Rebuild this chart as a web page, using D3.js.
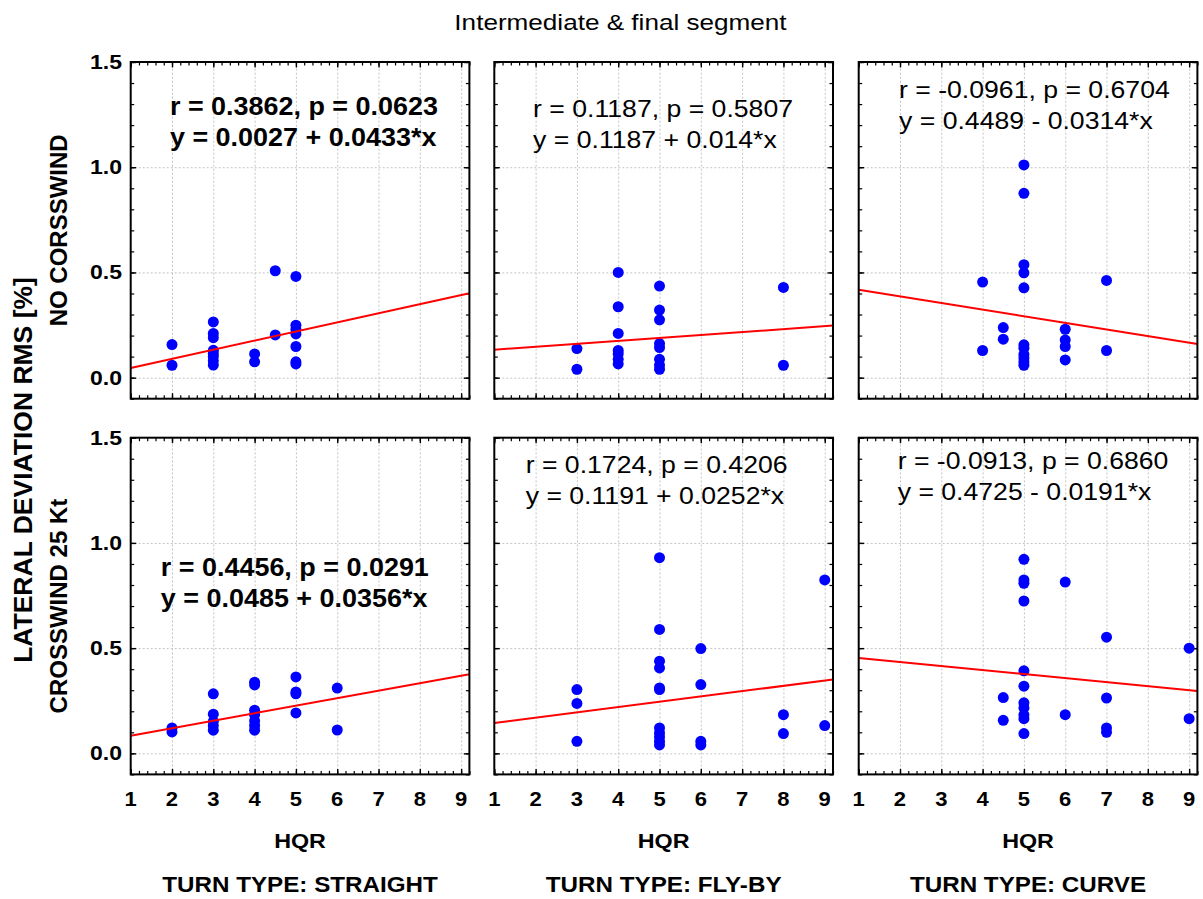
<!DOCTYPE html>
<html><head><meta charset="utf-8">
<script src="https://cdn.jsdelivr.net/npm/d3@7"></script>
<style>
body{margin:0;background:#fff}
svg{display:block}
text{font-family:'Liberation Sans',Arial,sans-serif;fill:#000}
</style>
</head><body>
<svg id="chart" width="1203" height="899"></svg>
<script>
// ---------- data ----------
const title = "Intermediate & final segment";
const yAxisTitle = "LATERAL DEVIATION RMS [%]";
const rowLabels = ["NO CORSSWIND", "CROSSWIND 25 Kt"];
const colLabels = ["TURN TYPE: STRAIGHT", "TURN TYPE: FLY-BY", "TURN TYPE: CURVE"];
const xAxisTitle = "HQR";
const xTickValues = [1, 2, 3, 4, 5, 6, 7, 8, 9];
const yTickValues = [0.0, 0.5, 1.0, 1.5];
const xDomain = [1, 9.2];
const yDomain = [-0.1, 1.5];

const straightNoCw = [[2,0.157],[2,0.059],
  [3,0.265],[3,0.21],[3,0.19],[3,0.13],[3,0.115],[3,0.10],[3,0.08],[3,0.06],
  [4,0.113],[4,0.075],[4.5,0.508],[4.5,0.203],
  [5,0.481],[5,0.249],[5,0.230],[5,0.208],[5,0.148],[5,0.075],[5,0.065]];
const flybyNoCw = [[3,0.138],[3,0.040],
  [4,0.500],[4,0.337],[4,0.210],[4,0.129],[4,0.113],[4,0.087],[4,0.065],
  [5,0.435],[5,0.321],[5,0.275],[5,0.162],[5,0.143],[5,0.087],[5,0.060],[5,0.040],
  [8,0.429],[8,0.059]];
const curveNoCw = [[4,0.454],[4,0.129],[4.5,0.238],[4.5,0.183],
  [5,1.011],[5,0.876],[5,0.537],[5,0.498],[5,0.427],[5,0.156],[5,0.14],[5,0.11],[5,0.094],[5,0.076],[5,0.059],
  [6,0.230],[6,0.179],[6,0.148],[6,0.084],[7,0.462],[7,0.129]];
const straightCw = [[2,0.121],[2,0.102],
  [3,0.283],[3,0.186],[3,0.152],[3,0.132],[3,0.110],
  [4,0.338],[4,0.325],[4,0.205],[4,0.184],[4,0.154],[4,0.132],[4,0.110],
  [5,0.363],[5,0.292],[5,0.283],[5,0.192],[6,0.310],[6,0.111]];
const flybyCw = [[3,0.303],[3,0.237],[3,0.057],
  [5,0.930],[5,0.589],[5,0.438],[5,0.406],[5,0.311],[5,0.303],[5,0.121],[5,0.097],[5,0.078],[5,0.057],[5,0.040],
  [6,0.498],[6,0.327],[6,0.057],[6,0.040],[8,0.184],[8,0.094],[9,0.824],[9,0.132]];
const curveCw = [[4.5,0.265],[4.5,0.157],
  [5,0.922],[5,0.824],[5,0.808],[5,0.724],[5,0.392],[5,0.319],[5,0.240],[5,0.216],[5,0.183],[5,0.165],[5,0.094],
  [6,0.814],[6,0.184],[7,0.552],[7,0.263],[7,0.121],[7,0.100],[9,0.500],[9,0.165]];

const panelData = [straightNoCw, flybyNoCw, curveNoCw, straightCw, flybyCw, curveCw];
const intercepts = [0.0027, 0.1187, 0.4489, 0.0485, 0.1191, 0.4725];
const slopes = [0.0433, 0.014, -0.0314, 0.0356, 0.0252, -0.0191];
const statText = ["r = 0.3862, p = 0.0623", "r = 0.1187, p = 0.5807", "r = -0.0961, p = 0.6704",
                  "r = 0.4456, p = 0.0291", "r = 0.1724, p = 0.4206", "r = -0.0913, p = 0.6860"];
const eqText = ["y = 0.0027 + 0.0433*x", "y = 0.1187 + 0.014*x", "y = 0.4489 - 0.0314*x",
                "y = 0.0485 + 0.0356*x", "y = 0.1191 + 0.0252*x", "y = 0.4725 - 0.0191*x"];
const boldStats = [true, false, false, true, false, false];

// ---------- layout ----------
const colLeft = [130.7, 494.3, 858.7];
const rowTop = [62, 437.7];
const W = 338.7, H = 336.7;
const annotX = [1.95, 1.94, 1.976, 1.73, 1.76, 1.944];
const annotY = [1.249, 1.241, 1.329, 0.843, 1.333, 1.352];
const lineGap = 31.5;

const svg = d3.select("#chart");

function stretch(sel, f) {
  sel.each(function () {
    const L = this.getComputedTextLength();
    this.setAttribute("textLength", L * f);
    this.setAttribute("lengthAdjust", "spacingAndGlyphs");
  });
}

// title
svg.append("text").attr("x", 620.5).attr("y", 30).attr("text-anchor", "middle")
  .style("font-size", "22.5px").text(title).call(stretch, 1.16);

// rotated labels
svg.append("text").attr("transform", "translate(32,470) rotate(-90)").attr("text-anchor", "middle")
  .style("font-size", "26.5px").style("font-weight", "bold").text(yAxisTitle);
rowLabels.forEach((lab, r) => {
  svg.append("text").attr("transform", `translate(67,${rowTop[r] + H / 2}) rotate(-90)`)
    .attr("text-anchor", "middle").style("font-size", "24px").style("font-weight", "bold").text(lab);
});

const xMinor = d3.range(0, 42).map(i => 1 + i * 0.2).filter(v => v <= 9.2 + 1e-9);
const yMinor = d3.range(0, 17).map(i => -0.1 + i * 0.1);

for (let r = 0; r < 2; r++) {
  for (let c = 0; c < 3; c++) {
    const idx = r * 3 + c;
    const g = svg.append("g").attr("transform", `translate(${colLeft[c]},${rowTop[r]})`);
    const x = d3.scaleLinear().domain(xDomain).range([0, W]);
    const y = d3.scaleLinear().domain(yDomain).range([H, 0]);

    // grid
    const gx = g.append("g").attr("transform", `translate(0,${H})`)
      .call(d3.axisBottom(x).tickValues(xTickValues.slice(1)).tickSize(-H).tickFormat(""));
    const gy = g.append("g")
      .call(d3.axisLeft(y).tickValues(yTickValues.slice(0, 3)).tickSize(-W).tickFormat(""));
    [gx, gy].forEach(a => {
      a.select(".domain").remove();
      a.selectAll("line").attr("stroke", "#c4c4c4").attr("stroke-width", 1).attr("stroke-dasharray", "2,2");
    });

    // ticks (inward on all sides)
    const tickAxes = [
      [d3.axisBottom(x), `translate(0,${H})`, xTickValues, xMinor],
      [d3.axisTop(x), `translate(0,0)`, xTickValues, xMinor],
      [d3.axisLeft(y), `translate(0,0)`, yTickValues, yMinor],
      [d3.axisRight(y), `translate(${W},0)`, yTickValues, yMinor]
    ];
    tickAxes.forEach(([ax, tr, major, minor]) => {
      const a1 = g.append("g").attr("transform", tr).call(ax.tickValues(minor).tickSize(-3.5).tickFormat(""));
      a1.select(".domain").remove();
      a1.selectAll("line").attr("stroke", "#000").attr("stroke-width", 1.2);
      const a2 = g.append("g").attr("transform", tr).call(ax.tickValues(major).tickSize(-5.5).tickFormat(""));
      a2.select(".domain").remove();
      a2.selectAll("line").attr("stroke", "#000").attr("stroke-width", 1.4);
    });

    // points
    g.append("g").selectAll("circle").data(panelData[idx]).join("circle")
      .attr("cx", d => x(d[0])).attr("cy", d => y(d[1])).attr("r", 5.5).attr("fill", "#0000ff");

    // regression line
    const line = d3.line().x(d => x(d)).y(d => y(intercepts[idx] + slopes[idx] * d));
    g.append("path").datum(xDomain).attr("d", line).attr("fill", "none")
      .attr("stroke", "#ff0000").attr("stroke-width", 2);

    // frame
    g.append("rect").attr("width", W).attr("height", H).attr("fill", "none")
      .attr("stroke", "#000").attr("stroke-width", 2);

    // annotation
    const bold = boldStats[idx];
    [statText[idx], eqText[idx]].forEach((t, k) => {
      g.append("text").attr("x", x(annotX[idx])).attr("y", y(annotY[idx]) + k * lineGap)
        .style("font-size", bold ? "25.5px" : "24.5px").style("font-weight", bold ? "bold" : "normal")
        .text(t).call(stretch, bold ? 1.056 : 1.086);
    });

    // y tick labels (left column)
    if (c === 0) {
      g.append("g").selectAll("text").data(yTickValues).join("text")
        .attr("x", -8.7).attr("y", d => y(d) + 7).attr("text-anchor", "end")
        .style("font-size", "20px").style("font-weight", "bold")
        .text(d => d3.format(".1f")(d)).call(stretch, 1.15);
    }
    // x tick labels, axis title and column labels (bottom row)
    if (r === 1) {
      g.append("g").selectAll("text").data(xTickValues).join("text")
        .attr("x", d => x(d)).attr("y", H + 31.3).attr("text-anchor", "middle")
        .style("font-size", "20px").style("font-weight", "bold")
        .text(d => d).call(stretch, 1.1);
      g.append("text").attr("x", W / 2).attr("y", H + 73.6).attr("text-anchor", "middle")
        .style("font-size", "21px").style("font-weight", "bold").text(xAxisTitle).call(stretch, 1.11);
      g.append("text").attr("x", W / 2).attr("y", H + 117.6).attr("text-anchor", "middle")
        .style("font-size", "22px").style("font-weight", "bold").text(colLabels[c]).call(stretch, 1.1);
    }
  }
}
</script>
</body></html>
